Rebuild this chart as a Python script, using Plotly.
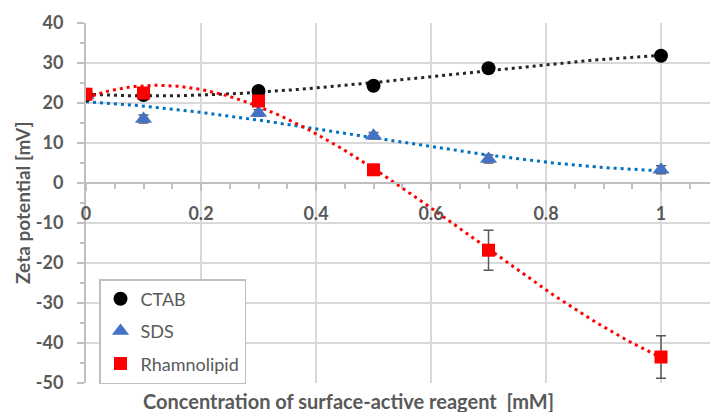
import numpy as np
import plotly.graph_objects as go

# ---- data ----
conc = [0, 0.1, 0.3, 0.5, 0.7, 1.0]
ctab = [22.0, 22.0, 23.0, 24.3, 28.7, 31.8]
sds = [22.0, 16.0, 17.5, 11.8, 6.0, 3.3]
sds_err = [0.0, 1.0, 0.8, 0.8, 1.0, 1.0]
rhamno = [22.2, 22.5, 20.5, 3.3, -16.8, -43.5]
rhamno_err = [0.0, 0.0, 0.0, 0.0, 5.0, 5.3]

x_ticks = [0, 0.2, 0.4, 0.6, 0.8, 1.0]
x_ticktext = ["0", "0.2", "0.4", "0.6", "0.8", "1"]
y_ticks = [-50, -40, -30, -20, -10, 0, 10, 20, 30, 40]
y_ticktext = ["-50", "-40", "-30", "-20", "-10", "0", "10", "20", "30", "40"]

FONT = "Lato"
GREY_TXT = "#595959"
AXIS = "#BFBFBF"
GRID = "#D9D9D9"

fig = go.Figure()

# polynomial (order 3) trendlines, fitted to the data like the spreadsheet trendline
xfit = np.linspace(0, 1, 121)
for ys, col in [(ctab, "#262626"), (sds, "#0070C0"), (rhamno, "#FF0000")]:
    c = np.polyfit(conc, ys, 3)
    fig.add_trace(go.Scatter(x=xfit, y=np.polyval(c, xfit), mode="lines",
                             line=dict(color=col, width=3, dash="3px,4px"),
                             showlegend=False, hoverinfo="skip"))

fig.add_trace(go.Scatter(x=conc, y=ctab, mode="markers", name="CTAB",
                         legendgroup="a",
                         marker=dict(symbol="circle", size=14, color="#000000")))
fig.add_trace(go.Scatter(x=conc, y=sds, mode="markers", name="SDS",
                         legendgroup="b",
                         error_y=dict(type="data", array=sds_err, color=GREY_TXT,
                                      thickness=1.5, width=5),
                         marker=dict(symbol="triangle-up", size=15, color="#4472C4")))
fig.add_trace(go.Scatter(x=conc, y=rhamno, mode="markers", name="Rhamnolipid",
                         legendgroup="c",
                         error_y=dict(type="data", array=rhamno_err, color=GREY_TXT,
                                      thickness=1.5, width=5),
                         marker=dict(symbol="square", size=13, color="#FF0000")))

fig.update_layout(
    width=710, height=412,
    margin=dict(l=86, r=0, t=23, b=29, autoexpand=False),
    paper_bgcolor="white", plot_bgcolor="white",
    font=dict(family=FONT, color=GREY_TXT),
    showlegend=True,
    legend=dict(x=13 / 624, y=(383 - 279) / 360, xanchor="left", yanchor="top",
                bgcolor="white", bordercolor=AXIS, borderwidth=1.5,
                font=dict(family=FONT, size=18, color=GREY_TXT),
                traceorder="grouped", tracegroupgap=6, itemwidth=30),
    xaxis=dict(range=[0, 1.0852], anchor="free", position=50 / 90, automargin=False,
               tickvals=x_ticks, ticktext=x_ticktext,
               showline=True, linecolor=AXIS, linewidth=2,
               ticks="outside", ticklen=7, tickcolor=AXIS, tickwidth=1.5,
               ticklabelstandoff=7,
               tickfont=dict(family=FONT, size=18, color=GREY_TXT, weight="bold"),
               showgrid=True, gridcolor=GRID, gridwidth=1.5, zeroline=False,
               minor=dict(dtick=0.05, tick0=0, ticks="outside", ticklen=5,
                          tickcolor=AXIS, tickwidth=1.5, showgrid=False)),
    yaxis=dict(range=[-50, 40], tickvals=y_ticks, ticktext=y_ticktext, automargin=False,
               showline=True, linecolor=AXIS, linewidth=2,
               ticks="outside", ticklen=7, tickcolor=AXIS, tickwidth=1.5,
               ticklabelstandoff=10,
               tickfont=dict(family=FONT, size=18, color=GREY_TXT, weight="bold"),
               showgrid=True, gridcolor=GRID, gridwidth=1.5, zeroline=False,
               minor=dict(dtick=5, tick0=0, ticks="outside", ticklen=4,
                          tickcolor=AXIS, tickwidth=1.5, showgrid=False)),
    annotations=[
        dict(text="Zeta potential [mV]", xref="paper", yref="paper",
             x=(22 - 86) / 624, y=0.5, xanchor="center", yanchor="middle",
             textangle=-90, showarrow=False,
             font=dict(family=FONT, size=19, color=GREY_TXT, weight="bold")),
        dict(text="Concentration of surface-active reagent  [mM]", xref="paper", yref="paper",
             x=(348 - 86) / 624, y=(383 - 401) / 360, xanchor="center", yanchor="middle",
             showarrow=False,
             font=dict(family=FONT, size=20, color=GREY_TXT, weight="bold")),
    ],
)

fig.write_html("out.html", config={"displayModeBar": False},
               post_script="document.body.style.margin='0';document.body.style.overflow='hidden';")
